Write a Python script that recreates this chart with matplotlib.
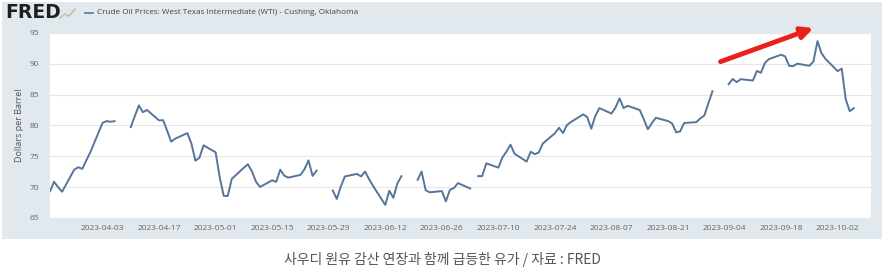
import matplotlib.pyplot as plt
import matplotlib.dates as mdates
import numpy as np
import pandas as pd
from matplotlib.patches import Rectangle

# WTI daily spot price, NaN = market holiday (gap in the line)
dates = [
    '2023-03-21', '2023-03-22', '2023-03-23', '2023-03-24', '2023-03-27', '2023-03-28',
    '2023-03-29', '2023-03-30', '2023-03-31', '2023-04-03', '2023-04-04', '2023-04-05',
    '2023-04-06', '2023-04-07', '2023-04-10', '2023-04-11', '2023-04-12', '2023-04-13',
    '2023-04-14', '2023-04-17', '2023-04-18', '2023-04-19', '2023-04-20', '2023-04-21',
    '2023-04-24', '2023-04-25', '2023-04-26', '2023-04-27', '2023-04-28', '2023-05-01',
    '2023-05-02', '2023-05-03', '2023-05-04', '2023-05-05', '2023-05-08', '2023-05-09',
    '2023-05-10', '2023-05-11', '2023-05-12', '2023-05-15', '2023-05-16', '2023-05-17',
    '2023-05-18', '2023-05-19', '2023-05-22', '2023-05-23', '2023-05-24', '2023-05-25',
    '2023-05-26', '2023-05-29', '2023-05-30', '2023-05-31', '2023-06-01', '2023-06-02',
    '2023-06-05', '2023-06-06', '2023-06-07', '2023-06-08', '2023-06-09', '2023-06-12',
    '2023-06-13', '2023-06-14', '2023-06-15', '2023-06-16', '2023-06-19', '2023-06-20',
    '2023-06-21', '2023-06-22', '2023-06-23', '2023-06-26', '2023-06-27', '2023-06-28',
    '2023-06-29', '2023-06-30', '2023-07-03', '2023-07-04', '2023-07-05', '2023-07-06',
    '2023-07-07', '2023-07-10', '2023-07-11', '2023-07-12', '2023-07-13', '2023-07-14',
    '2023-07-17', '2023-07-18', '2023-07-19', '2023-07-20', '2023-07-21', '2023-07-24',
    '2023-07-25', '2023-07-26', '2023-07-27', '2023-07-28', '2023-07-31', '2023-08-01',
    '2023-08-02', '2023-08-03', '2023-08-04', '2023-08-07', '2023-08-08', '2023-08-09',
    '2023-08-10', '2023-08-11', '2023-08-14', '2023-08-15', '2023-08-16', '2023-08-17',
    '2023-08-18', '2023-08-21', '2023-08-22', '2023-08-23', '2023-08-24', '2023-08-25',
    '2023-08-28', '2023-08-29', '2023-08-30', '2023-08-31', '2023-09-01', '2023-09-04',
    '2023-09-05', '2023-09-06', '2023-09-07', '2023-09-08', '2023-09-11', '2023-09-12',
    '2023-09-13', '2023-09-14', '2023-09-15', '2023-09-18', '2023-09-19', '2023-09-20',
    '2023-09-21', '2023-09-22', '2023-09-25', '2023-09-26', '2023-09-27', '2023-09-28',
    '2023-09-29', '2023-10-02', '2023-10-03', '2023-10-04', '2023-10-05', '2023-10-06',
]
prices = [
    69.33, 70.88, 70.00, 69.26, 72.84, 73.23,
    72.97, 74.37, 75.68, 80.42, 80.71, 80.61,
    80.70, np.nan, 79.74, 81.53, 83.26, 82.16,
    82.52, 80.83, 80.86, 79.16, 77.37, 77.87,
    78.76, 77.07, 74.30, 74.76, 76.78, 75.66,
    71.66, 68.60, 68.56, 71.34, 73.16, 73.71,
    72.56, 70.87, 70.04, 71.11, 70.86, 72.83,
    71.86, 71.55, 71.99, 72.91, 74.34, 71.83,
    72.67, np.nan, 69.46, 68.09, 70.10, 71.74,
    72.15, 71.74, 72.53, 71.29, 70.17, 67.12,
    69.42, 68.27, 70.62, 71.78, np.nan, 71.19,
    72.53, 69.51, 69.16, 69.37, 67.70, 69.56,
    69.86, 70.66, 69.79, np.nan, 71.79, 71.80,
    73.86, 73.17, 74.83, 75.75, 76.89, 75.42,
    74.15, 75.75, 75.35, 75.63, 77.07, 78.74,
    79.63, 78.78, 80.09, 80.58, 81.80, 81.37,
    79.49, 81.55, 82.82, 81.94, 82.92, 84.40,
    82.82, 83.19, 82.51, 81.02, 79.39, 80.39,
    81.25, 80.72, 80.35, 78.89, 79.05, 80.41,
    80.54, 81.16, 81.63, 83.63, 85.55, np.nan,
    86.69, 87.54, 87.03, 87.51, 87.29, 88.84,
    88.55, 90.16, 90.77, 91.48, 91.20, 89.66,
    89.63, 90.03, 89.68, 90.39, 93.68, 91.71,
    90.79, 88.82, 89.23, 84.22, 82.31, 82.81,
]
tick_dates = pd.date_range('2023-04-03', '2023-10-02', freq='14D')

title = 'Crude Oil Prices: West Texas Intermediate (WTI) - Cushing, Oklahoma'
ylabel = 'Dollars per Barrel'
caption = '사우디 원유 감산 연장과 함께 급등한 유가 / 자료 : FRED'

W, H = 885, 273
fig = plt.figure(figsize=(W / 100, H / 100), dpi=100)
fig.patch.set_facecolor('white')

# grey FRED panel, behind the axes
fig.patches.append(Rectangle((2 / W, 1 - 239 / H), 880 / W, 237 / H,
                             transform=fig.transFigure, facecolor='#e1e8ee',
                             edgecolor='none', zorder=-5))

ax = fig.add_axes([50 / W, 1 - 218 / H, 821 / W, 185 / H])
ax.set_zorder(2)
ax.set_facecolor('white')
x = pd.to_datetime(dates)
ax.plot(x, prices, color='#56759a', lw=1.4)

ax.set_xlim(pd.Timestamp('2023-03-21'), pd.Timestamp('2023-10-10 06:00'))
ax.set_ylim(65, 95)
ax.set_yticks(np.arange(65, 96, 5))
ax.set_xticks(tick_dates)
ax.xaxis.set_major_formatter(mdates.DateFormatter('%Y-%m-%d'))
ax.grid(axis='y', color='#e6e6e6', lw=0.8)
ax.set_axisbelow(True)
for s in ax.spines.values():
    s.set_visible(False)
ax.tick_params(length=0, labelsize=6, labelcolor='#666666', pad=8)
ax.tick_params(axis='x', pad=5)
for t in ax.get_xticklabels() + ax.get_yticklabels():
    t.set_family('Open Sans')
ax.set_ylabel(ylabel, fontsize=6.5, color='#555555', family='Open Sans', labelpad=4)

# red arrow
ax.annotate('', xy=(pd.Timestamp('2023-09-26'), 95.8),
            xytext=(pd.Timestamp('2023-09-03'), 90.35),
            arrowprops=dict(arrowstyle='-|>', color='#e8211c', lw=3.5,
                            mutation_scale=17, shrinkA=0, shrinkB=0),
            annotation_clip=False)

# header
fig.text(5 / W, 1 - 13 / H, 'FRED', fontsize=13.5, fontweight='heavy',
         family='DejaVu Sans', color='#1f1f1f', va='center', ha='left')
fig.lines.append(plt.Line2D([60 / W, 65 / W, 69 / W, 75 / W], [1 - 18 / H, 1 - 14 / H, 1 - 16 / H, 1 - 9 / H],
                            transform=fig.transFigure, color='#b9c9a0', lw=1.2))
fig.lines.append(plt.Line2D([85 / W, 93 / W], [1 - 13 / H, 1 - 13 / H],
                            transform=fig.transFigure, color='#56759a', lw=1.2))
fig.text(97 / W, 1 - 13 / H, title, fontsize=5.9, family='Open Sans',
         color='#444444', va='center', ha='left')

# caption
fig.text(442 / W, 1 - 259 / H, caption, fontsize=10,
         family=['Noto Sans CJK KR', 'DejaVu Sans'], color='#555555',
         va='center', ha='center')

fig.savefig('out.png', dpi=100, facecolor='white')
